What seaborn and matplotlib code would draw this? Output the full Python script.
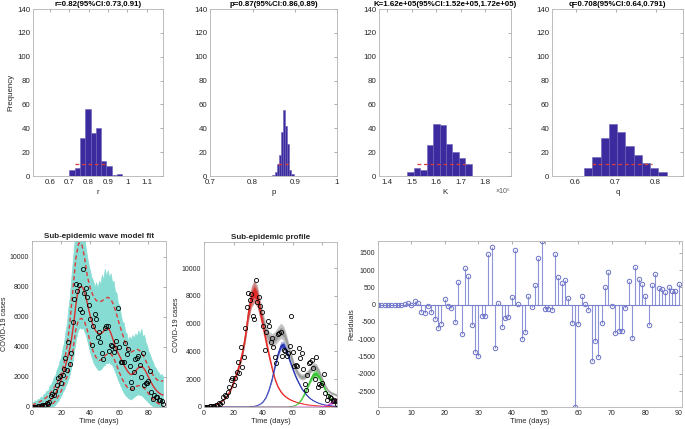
import numpy as np
import pandas as pd
import seaborn as sns
import matplotlib
matplotlib.use("Agg")
import matplotlib.pyplot as plt
from matplotlib.ticker import FuncFormatter

# ---------------- data ----------------
days = np.arange(0, 91)
days2 = np.arange(0, 91, 2)

# bootstrap histograms: 10 bins, 200 realizations each
r_counts = [5, 7, 32, 56, 36, 40, 13, 8, 1, 2]
p_counts = [1, 3, 10, 18, 37, 55, 42, 27, 5, 2]
K_counts = [3, 7, 5, 26, 44, 43, 27, 20, 15, 10]
q_counts = [7, 16, 32, 44, 37, 25, 18, 11, 7, 3]
r_range = (0.700, 0.974)
p_range = (0.847, 0.897)
K_range = (1.482, 1.745)  # x 10^5
q_range = (0.621, 0.827)
r_ci = (0.730, 0.895)
p_ci = (0.860, 0.887)
K_ci = (1.523, 1.717)
q_ci = (0.641, 0.790)
hist_titles = ["r=0.82(95%CI:0.73,0.91)", "p=0.87(95%CI:0.86,0.89)",
               "K=1.62e+05(95%CI:1.52e+05,1.72e+05)", "q=0.708(95%CI:0.64,0.791)"]
hist_xlabels = ["r", "p", "K", "q"]
hist_xlims = [(0.512, 1.185), (0.699, 1.0), (1.366, 1.906), (0.541, 0.868)]
hist_xticks = [[0.6, 0.7, 0.8, 0.9, 1, 1.1], [0.7, 0.8, 0.9, 1],
               [1.4, 1.5, 1.6, 1.7, 1.8], [0.6, 0.7, 0.8]]

# best fit (red solid line)
fit = [10, 15, 20, 30, 40, 55, 75, 100, 140, 190,
       260, 330, 410, 500, 600, 720, 870, 1050, 1260, 1500,
       1780, 2080, 2400, 2740, 3100, 3480, 3920, 4450, 5100, 5850,
       6700, 7400, 7800, 8000, 8020, 7920, 7650, 7300, 6900, 6450,
       6050, 5700, 5420, 5200, 5040, 4930, 4880, 4880, 4930, 5020,
       5140, 5230, 5240, 5150, 4950, 4680, 4390, 4100, 3830, 3620,
       3420, 3220, 3020, 2820, 2640, 2480, 2330, 2220, 2160, 2180,
       2260, 2380, 2500, 2600, 2670, 2690, 2650, 2540, 2380, 2190,
       1990, 1790, 1600, 1430, 1280, 1150, 1040, 950, 880, 830, 800]

# residuals (model minus data)
residuals = [0, 0, 0, 0, 0, 0, -20, 0, 10, 40,
             -10, 100, 50, -220, -250, -50, -200, -410, -690, -570,
             160, -30, -100, -490, 650, -860, 1070, 840, -590, -1360,
             -1480, -330, -340, 1470, 1670, -1250, 50, -650, -390, -360,
             220, 1580, 20, -980, -790, 250, -80, 580, 1335, 1835,
             -126, -135, -155, 1450, 812, 628, 725, 203, -532, -2955,
             -561, 251, 29, -145, -1634, -1064, -1528, -522, 512, 948,
             -48, -812, -764, -764, -106, 696, -957, 1073, 754, 600,
             242, -600, 580, 899, 493, 464, 367, 512, 397, 406, 609]

# 95% prediction interval (red dashed), every 2 days
upper_pi = [150, 200, 280, 380, 500, 650, 850, 1100, 1400, 1750,
            2200, 2900, 4000, 5600, 7700, 9800, 10900, 10900, 10000, 8700,
            7900, 7400, 7100, 7000, 7050, 7200, 7300, 7200, 6800, 6200,
            5500, 4900, 4300, 3800, 3650, 3750, 3850, 3750, 3500, 3100,
            2700, 2300, 2000, 1800, 1700, 1750]
lower_pi = [0, 0, 10, 20, 40, 70, 120, 200, 400, 700,
            1050, 1500, 2000, 2700, 3700, 5100, 5800, 5900, 5700, 5100,
            4300, 3700, 3300, 3100, 3150, 3400, 3550, 3550, 3300, 2800,
            2300, 1850, 1500, 1250, 1150, 1300, 1400, 1420, 1350, 1150,
            900, 650, 420, 270, 170, 130]

# envelope of simulated curves (cyan)
band_hi = [350, 300, 450, 400, 550, 500, 700, 650, 850, 900,
           1100, 1050, 1400, 1500, 1700, 2000, 2100, 2500, 2700, 3100,
           3300, 3900, 4300, 5000, 5600, 6600, 7400, 8600, 9700, 10800,
           11500, 11500, 11500, 11500, 11500, 11500, 11200, 10500, 9900, 9400,
           9000, 8600, 8400, 8000, 8300, 7900, 8400, 8200, 8800, 8500,
           9200, 8700, 9100, 8600, 8900, 8300, 8400, 7700, 7600, 6900,
           6800, 6100, 5700, 5600, 5000, 4900, 4400, 4700, 4500, 4800,
           4600, 4900, 4700, 5100, 4800, 5200, 4700, 4800, 4300, 4100,
           3700, 3500, 3200, 3000, 2700, 2600, 2400, 2300, 2100, 2200, 2000]
band_lo = [0, 0, 0, 0, 0, 0, 0, 0, 0, 0,
           0, 0, 0, 0, 20, 80, 150, 300, 400, 600,
           750, 1000, 1150, 1400, 1600, 1900, 2200, 2700, 3100, 3800,
           4400, 4900, 5200, 5300, 5200, 5300, 5000, 4800, 4400, 4000,
           3600, 3300, 3000, 2800, 2650, 2500, 2450, 2500, 2600, 2750,
           2800, 2950, 2900, 3000, 2850, 2800, 2600, 2350, 2100, 1800,
           1600, 1350, 1150, 950, 800, 700, 600, 550, 500, 600,
           650, 750, 800, 850, 800, 800, 700, 600, 500, 400,
           300, 200, 120, 60, 20, 0, 0, 0, 0, 0, 0]

# sub-epidemics, every 2 days
sub1 = [10, 20, 40, 75, 140, 260, 410, 600, 870, 1260,
        1780, 2400, 3100, 3950, 5200, 6800, 7900, 8300, 7900, 6900,
        5800, 4700, 3700, 2800, 2000, 1450, 1100, 850, 680, 550,
        450, 370, 300, 250, 200, 160, 130, 110, 90, 75,
        60, 50, 40, 35, 30, 25]
sub2 = [0, 0, 0, 0, 0, 0, 0, 0, 0, 0,
        0, 0, 0, 0, 0, 0, 20, 50, 100, 200,
        380, 700, 1250, 2000, 2950, 3800, 4400, 4450, 4000, 3350,
        2750, 2200, 1750, 1350, 1050, 800, 600, 460, 350, 260,
        200, 150, 110, 85, 65, 50]
sub3 = [0] * 29 + [20, 50, 120, 280, 550, 950, 1450, 1950, 2350, 2400,
                   2150, 1700, 1250, 880, 600, 400, 270]
sub4 = [0] * 40 + [20, 60, 150, 300, 450, 500]
sub_spread = [0.09, 0.07, 0.12, 0.45]
total_spread = 0.1

cases = np.array(fit) - np.array(residuals)
df = pd.DataFrame({"day": days, "cases": cases, "fit": fit,
                   "resid": residuals, "hi": band_hi, "lo": band_lo})

# ---------------- style ----------------
sns.set_style("white")
plt.rcParams["font.family"] = ["Liberation Sans", "DejaVu Sans"]
plt.rcParams["font.size"] = 5.7

GRID = "#b3b3b3"
TXT = "#262626"
RED = "#dc3b3b"


def matlab_axes(ax, size=5.7):
    for s in ax.spines.values():
        s.set_color(GRID)
        s.set_linewidth(0.6)
    ax.tick_params(direction="in", top=True, right=True, length=2.5, width=0.5,
                   color="#8c8c8c", labelcolor=TXT, labelsize=size, pad=2)
    ax.xaxis.set_major_formatter(FuncFormatter(lambda v, _: "%g" % round(v, 6)))
    ax.yaxis.set_major_formatter(FuncFormatter(lambda v, _: "%g" % round(v, 6)))


fig = plt.figure(figsize=(6.85, 4.29), dpi=100)

# ---------------- histograms ----------------
hist_pos = [(0.0482, 0.1898), (0.3066, 0.1854), (0.5533, 0.1927), (0.8058, 0.1912)]
hist_data = [(r_counts, r_range, r_ci), (p_counts, p_range, p_ci),
             (K_counts, K_range, K_ci), (q_counts, q_range, q_ci)]
for i, ((counts, rng, ci), (left, w)) in enumerate(zip(hist_data, hist_pos)):
    ax = fig.add_axes([left, 0.5897, w, 0.389])
    edges = np.linspace(rng[0], rng[1], len(counts) + 1)
    hd = pd.DataFrame({"x": (edges[:-1] + edges[1:]) / 2, "n": counts})
    sns.histplot(data=hd, x="x", weights="n", bins=len(counts), binrange=rng, ax=ax,
                 color="#3b2b9e", edgecolor="#6a62b8", linewidth=0.4, alpha=1)
    ax.plot(ci, [10, 10], color=RED, ls="--", lw=0.9, dashes=(3, 2.2))
    ax.set_xlim(hist_xlims[i])
    ax.set_ylim(0, 140)
    ax.set_xticks(hist_xticks[i])
    ax.set_yticks(range(0, 141, 20))
    matlab_axes(ax)
    ax.set_title(hist_titles[i], fontsize=5.7, fontweight="bold", color="k", pad=2)
    ax.set_xlabel(hist_xlabels[i], fontsize=5.7, color=TXT, labelpad=2)
    ax.set_ylabel("Frequency" if i == 0 else "", fontsize=5.7, color=TXT, labelpad=2)
    if i == 2:
        ax.text(0.94, -0.095, "×10⁵", transform=ax.transAxes, fontsize=5,
                color="#555555", ha="center", va="center")

# ---------------- model fit ----------------
ax = fig.add_axes([0.0467, 0.0513, 0.1956, 0.387])
ax.fill_between(df["day"], df["lo"], df["hi"], color="#86dcd3", lw=0.5,
                edgecolor="#86dcd3")
ax.plot(days2, upper_pi, color=RED, ls="--", lw=1.0, dashes=(3, 2))
ax.plot(days2, lower_pi, color=RED, ls="--", lw=1.0, dashes=(3, 2))
sns.lineplot(data=df, x="day", y="fit", ax=ax, color="#d93030", lw=1.0)
ax.plot(df["day"], df["cases"], "o", ms=3, mfc="none", mec="k", mew=0.6)
ax.set_xlim(0, 92)
ax.set_ylim(0, 11050)
ax.set_xticks([0, 20, 40, 60, 80])
ax.set_yticks(range(0, 10001, 2000))
matlab_axes(ax, 5.0)
ax.set_title("Sub-epidemic wave model fit", fontsize=5.8, fontweight="bold", pad=2)
ax.set_xlabel("Time (days)", fontsize=5.4, color=TXT, labelpad=1)
ax.set_ylabel("COVID-19 cases", fontsize=5.2, color=TXT, labelpad=1)

# ---------------- sub-epidemic profile ----------------
ax = fig.add_axes([0.2978, 0.0513, 0.1942, 0.385])
subs = [np.array(s, float) for s in (sub1, sub2, sub3, sub4)]
total = sum(subs)
sub_colors = ["#e8231f", "#2230b0", "#31c42c", "#d23fd2"]
ax.fill_between(days2, total * (1 - total_spread), total * (1 + total_spread),
                color="#c4c4c4", lw=0)
ax.fill_between(days2, total * (1 - total_spread / 2), total * (1 + total_spread / 2),
                color="#9c9c9c", lw=0)
for s, sp, c in zip(subs, sub_spread, sub_colors):
    ax.fill_between(days2, s * (1 - sp), s * (1 + sp), color=c, alpha=0.4, lw=0)
    ax.fill_between(days2, s * (1 - sp / 2), s * (1 + sp / 2), color=c, alpha=0.85, lw=0)
    ax.plot(days2, s, color=c, lw=0.6)
ax.plot(df["day"], df["cases"], "o", ms=3, mfc="none", mec="k", mew=0.6)
ax.set_xlim(0, 90)
ax.set_ylim(0, 11900)
ax.set_xticks([0, 20, 40, 60, 80])
ax.set_yticks(range(0, 10001, 2000))
matlab_axes(ax, 5.0)
ax.set_title("Sub-epidemic profile", fontsize=5.8, fontweight="bold", pad=2)
ax.set_xlabel("Time (days)", fontsize=5.4, color=TXT, labelpad=1)
ax.set_ylabel("COVID-19 cases", fontsize=5.2, color=TXT, labelpad=1)

# ---------------- residuals ----------------
ax = fig.add_axes([0.5518, 0.0513, 0.4438, 0.387])
ml, sl, bl = ax.stem(df["day"], df["resid"], basefmt="-")
plt.setp(sl, color="#8e93d8", lw=0.8)
plt.setp(ml, marker="o", ms=3.2, mfc="none", mec="#6c73c8", mew=0.7)
plt.setp(bl, color="#7a80cc", lw=0.8)
ax.set_xlim(0, 91)
ax.set_ylim(-2960, 1840)
ax.set_xticks(range(0, 91, 10))
ax.set_yticks(range(-2500, 1501, 500))
matlab_axes(ax, 5.0)
ax.set_xlabel("Time (days)", fontsize=5.4, color=TXT, labelpad=1)
ax.set_ylabel("Residuals", fontsize=5.2, color=TXT, labelpad=1)

fig.savefig("out.png", dpi=100)
